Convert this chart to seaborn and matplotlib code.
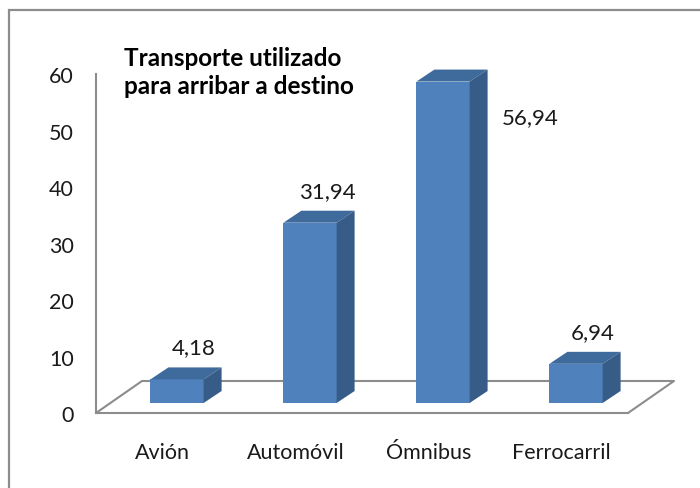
"""
Grafico de barras "3D" (estilo Excel): transporte utilizado para arribar a destino.
"""
import matplotlib
matplotlib.use("Agg")
import matplotlib.pyplot as plt
from matplotlib.patches import Polygon, Rectangle
from matplotlib.lines import Line2D
from matplotlib.transforms import IdentityTransform, offset_copy
import seaborn as sns
import pandas as pd

transportes = ["Avión", "Automóvil", "Ómnibus", "Ferrocarril"]
porcentajes = [4.18, 31.94, 56.94, 6.94]
etiquetas = ["4,18", "31,94", "56,94", "6,94"]
titulo = "Transporte utilizado\npara arribar a destino"
y_ticks = [0, 10, 20, 30, 40, 50, 60]

AZUL = "#4F81BD"
AZUL_TOPO = "#3F6A9C"
AZUL_LADO = "#375C87"
CINZA = "#8C8C8C"
TEXTO = "#1a1a1a"

# profundidade (em pixels) do piso, da frente das barras e das barras
PISO_DX, PISO_DY = 46, 32
FRENTE_DX, FRENTE_DY = 14.5, 10
BARRA_DX, BARRA_DY = 18, 12

sns.set_theme(style="white")
plt.rcParams["font.family"] = ["Lato", "DejaVu Sans"]

df = pd.DataFrame({"transporte": transportes, "pct": porcentajes})

fig = plt.figure(figsize=(7, 4.89), dpi=100)
ax = fig.add_axes([96 / 700, 75 / 489, 532 / 700, 338.7 / 489])

sns.barplot(data=df, x="transporte", y="pct", width=0.4, color=AZUL,
            saturation=1, ax=ax, zorder=3)
ax.set_xlim(-0.5, 3.5)
ax.set_ylim(0, 60)

for barra in ax.patches:
    barra.set_transform(offset_copy(ax.transData, fig, x=FRENTE_DX,
                                    y=FRENTE_DY, units="dots"))
    barra.set_clip_on(False)
    barra.set_edgecolor("none")

# eixos
for lado in ["top", "right"]:
    ax.spines[lado].set_visible(False)
for lado in ["left", "bottom"]:
    ax.spines[lado].set_color(CINZA)
    ax.spines[lado].set_linewidth(1.5)

ax.set_yticks(y_ticks)
ax.tick_params(axis="y", direction="out", length=5, width=1.3, color=CINZA,
               pad=11, labelsize=15.5, labelcolor=TEXTO)
ax.set_xticks(range(len(transportes)))
ax.set_xticks([i - 0.5 for i in range(len(transportes) + 1)], minor=True)
ax.tick_params(axis="x", which="major", length=0, pad=21, labelsize=15.5,
               labelcolor=TEXTO)
ax.tick_params(axis="x", which="minor", direction="out", length=5,
               width=1.3, color=CINZA)
ax.set_xlabel("")
ax.set_ylabel("")

fig.canvas.draw()

# piso
caixa = ax.get_window_extent()
x0, x1, y0 = caixa.x0, caixa.x1, caixa.y0
piso_x = [x0, x0 + PISO_DX, x1 + PISO_DX, x1]
piso_y = [y0, y0 + PISO_DY, y0 + PISO_DY, y0]
ax.add_line(Line2D(piso_x, piso_y, color=CINZA, lw=1.5,
                   transform=IdentityTransform(), clip_on=False, zorder=1))

# faces superior e lateral + rotulos
for barra, rotulo in zip(ax.patches, etiquetas):
    bb = barra.get_window_extent()
    topo = [(bb.x0, bb.y1), (bb.x1, bb.y1),
            (bb.x1 + BARRA_DX, bb.y1 + BARRA_DY), (bb.x0 + BARRA_DX, bb.y1 + BARRA_DY)]
    lado = [(bb.x1, bb.y0), (bb.x1 + BARRA_DX, bb.y0 + BARRA_DY),
            (bb.x1 + BARRA_DX, bb.y1 + BARRA_DY), (bb.x1, bb.y1)]
    ax.add_patch(Polygon(topo, closed=True, facecolor=AZUL_TOPO, edgecolor="none",
                         transform=IdentityTransform(), clip_on=False, zorder=3))
    ax.add_patch(Polygon(lado, closed=True, facecolor=AZUL_LADO, edgecolor="none",
                         transform=IdentityTransform(), clip_on=False, zorder=3))
    tx = (bb.x0 + bb.x1) / 2 + 17
    ty = bb.y1 + BARRA_DY + 20
    if ty + 10 > caixa.y1:
        tx = bb.x1 + BARRA_DX + 43
        ty = bb.y1 - 36
    ax.text(tx, ty, rotulo, transform=IdentityTransform(), ha="center",
            va="center", fontsize=16, color=TEXTO)

ax.set_xlim(-0.5, 3.5)
ax.set_ylim(0, 60)

fig.text(124 / 700, 1 - 47 / 489, titulo, ha="left", va="top",
         fontsize=17.5, fontweight="bold", linespacing=1.25, color="black")

# moldura do grafico
fig.patches.append(Rectangle((9 / 700, -0.1), 1.2, 1.1 - 11 / 489,
                             transform=fig.transFigure, fill=False,
                             edgecolor=CINZA, lw=1.6, zorder=0))

fig.savefig("out.png", dpi=100)
